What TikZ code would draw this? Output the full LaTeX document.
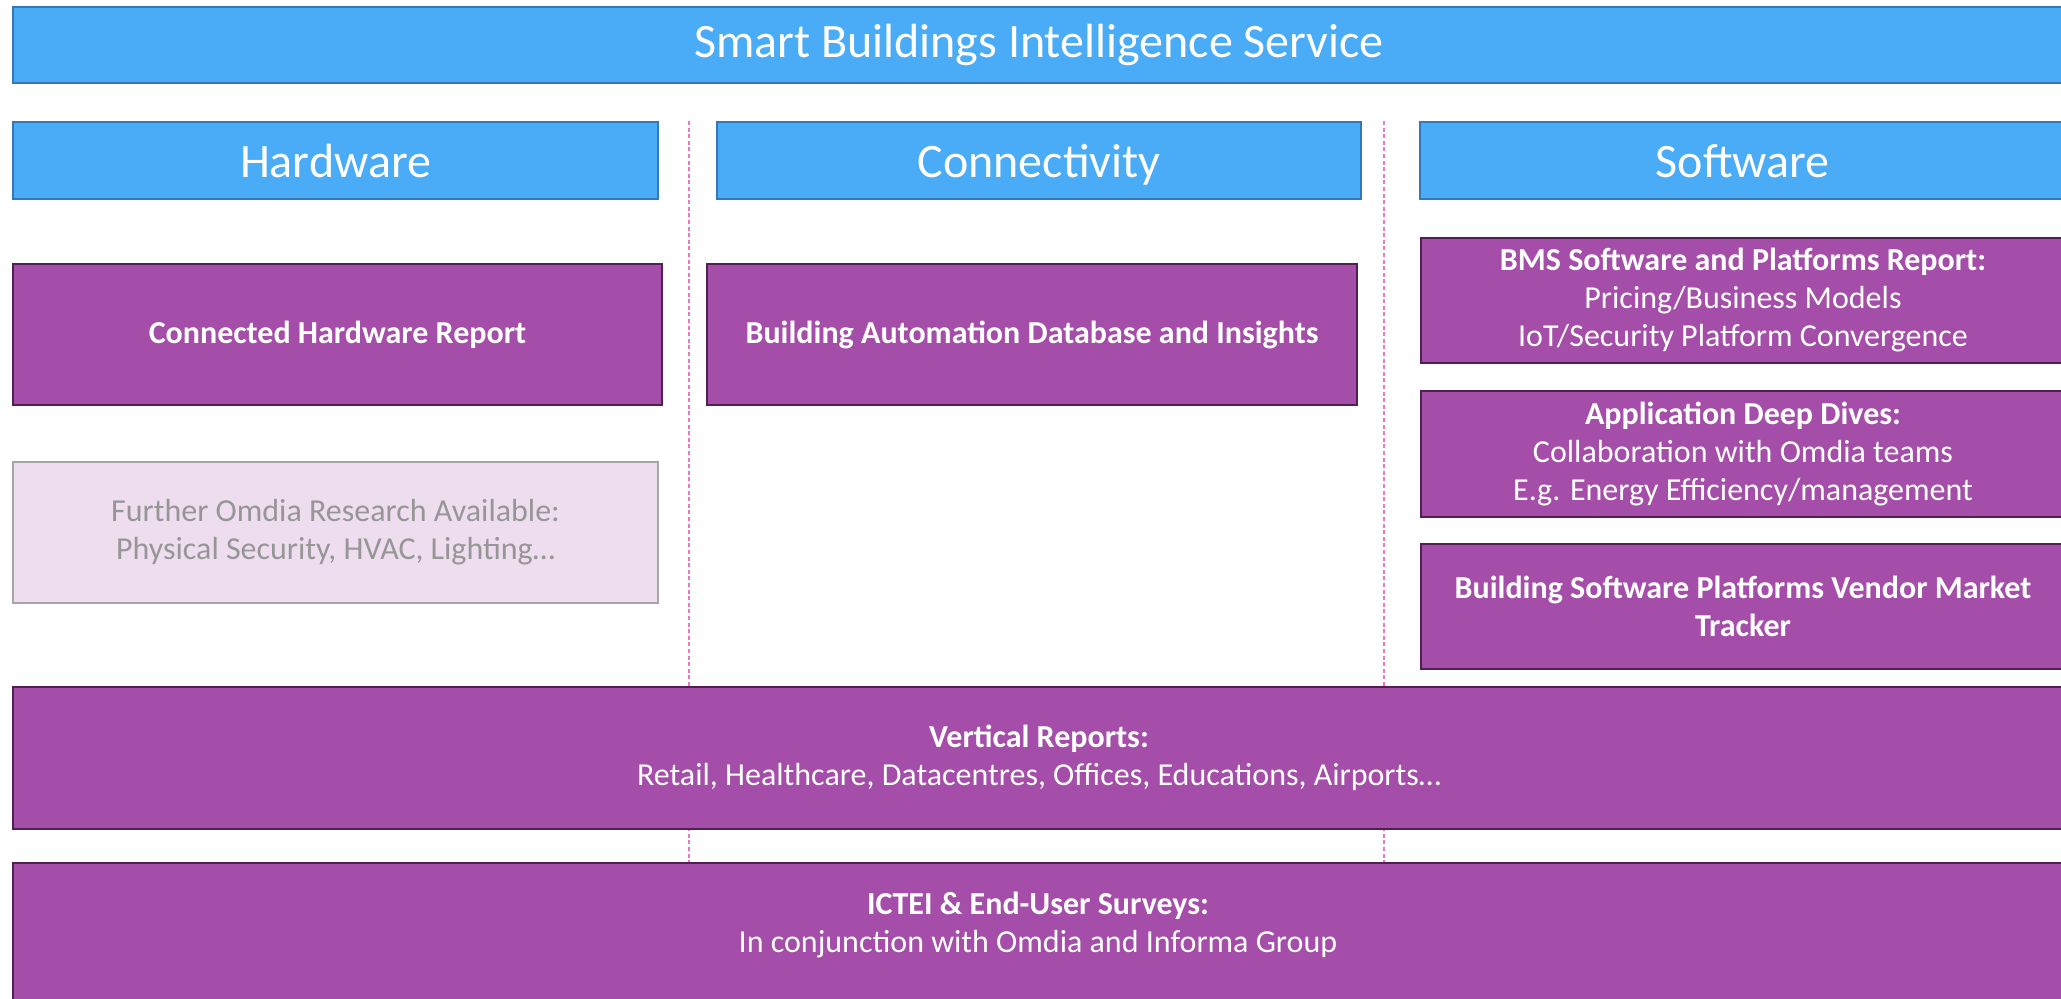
\documentclass[tikz,border=0pt]{standalone}
\usepackage{fontspec}
\setmainfont{Carlito}
\definecolor{headblue}{RGB}{74,171,247}
\definecolor{headline}{RGB}{52,120,185}
\definecolor{repfill}{RGB}{164,78,169}
\definecolor{repline}{RGB}{80,32,84}
\definecolor{fadefill}{RGB}{238,221,239}
\definecolor{fadeline}{RGB}{166,166,166}
\definecolor{fadetext}{RGB}{150,150,150}
\definecolor{splitpink}{RGB}{236,120,196}
\begin{document}
\begin{tikzpicture}
  [
    x = 0.5pt, y = -0.5pt,
    every node/.style = {font=\fontsize{16}{19}\selectfont, align=center, inner sep=0pt, anchor=north west},
    header/.style     = {draw=headline, line width=1pt, fill=headblue, text=white,
                         font=\fontsize{24}{29}\selectfont, minimum height=38.5pt},
    column/.style     = {header, text height=17pt, text depth=0pt, minimum width=322.5pt},
    report/.style     = {draw=repline, line width=1pt, fill=repfill, text=white},
    further/.style    = {draw=fadeline, line width=1pt, fill=fadefill, text=fadetext},
    split/.style      = {draw=splitpink, line width=1pt, dash pattern=on 2pt off 1.3pt}
  ]
 \useasboundingbox[fill=white] (0,0) rectangle (2061,998);
 % column separators, behind the boxes
 \coordinate (s1top) at (689,121);
 \coordinate (s1bot) at (689,862);
 \coordinate (s2top) at (1384,121);
 \coordinate (s2bot) at (1384,862);
 \draw[split] (s1top) -- (s1bot);
 \draw[split] (s2top) -- (s2bot);
 % headers
 \node[header, minimum width=1026pt, minimum height=38pt] (service) at (12,6) {Smart Buildings Intelligence Service};
 \node[column] (hardware) at (12,121) {Hardware};
 \node[column, minimum width=322pt] (connect) at (716,121) {Connectivity};
 \node[column] (software) at (1419,121) {Software};
 % hardware column
 \node[report, minimum width=324.5pt, minimum height=70.5pt] (hwreport) at (12,263) {\textbf{Connected Hardware Report}};
 \node[further, minimum width=322.5pt, minimum height=70.5pt] (omdia) at (12,461)
   {Further Omdia Research Available:\\Physical Security, HVAC, Lighting…};
 % connectivity column
 \node[report, minimum width=325pt, minimum height=70.5pt] (bas) at (706,263) {\textbf{Building Automation Database and Insights}};
 % software column
 \node[report, minimum width=322pt, minimum height=62.5pt] (bms) at (1420,237)
   {\textbf{BMS Software and Platforms Report:}\\Pricing/Business Models\\IoT/Security Platform Convergence};
 \node[report, minimum width=322pt, minimum height=63pt] (dives) at (1420,390)
   {\textbf{Application Deep Dives:}\\Collaboration with Omdia teams\\E.g. Energy Efficiency/management};
 \node[report, minimum width=322pt, minimum height=62.5pt] (tracker) at (1420,543)
   {\textbf{Building Software Platforms Vendor Market}\\\textbf{Tracker}};
 % full width rows
 \node[report, minimum width=1026pt, minimum height=71pt] (vertical) at (12,686)
   {\textbf{Vertical Reports:}\\Retail, Healthcare, Datacentres, Offices, Educations, Airports…};
 \node[report, minimum width=1026pt, minimum height=80pt] (surveys) at (12,862) {};
 \node[anchor=center, text=white] (surveytext) at (1038,925)
   {\textbf{ICTEI \& End-User Surveys:}\\In conjunction with Omdia and Informa Group};
\end{tikzpicture}
\end{document}
